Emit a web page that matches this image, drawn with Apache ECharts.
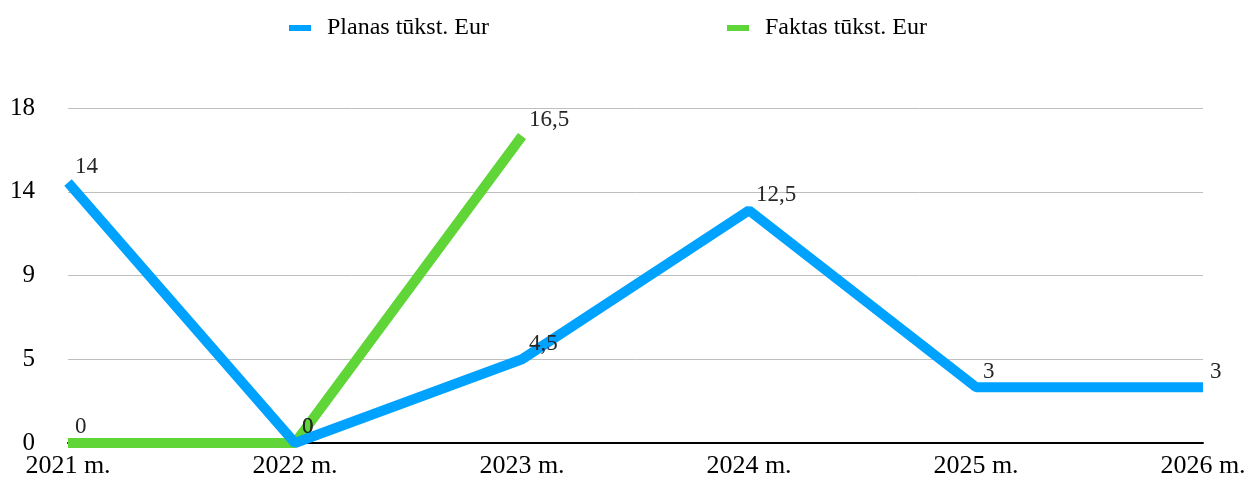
<!DOCTYPE html>
<html>
<head>
<meta charset="utf-8">
<script src="https://cdn.jsdelivr.net/npm/echarts@6/dist/echarts.min.js"></script>
<style>
  html, body { margin: 0; padding: 0; background: #fff; }
  #chart { width: 1250px; height: 480px; }
</style>
</head>
<body>
<div id="chart"></div>
<script>
// duomenys
const years = ['2021 m.', '2022 m.', '2023 m.', '2024 m.', '2025 m.', '2026 m.'];
const planas = [14, 0, 4.5, 12.5, 3, 3];
const faktas = [0, 0, 16.5];
const seriesNames = ['Planas tūkst. Eur', 'Faktas tūkst. Eur'];

const FONT = 'Liberation Serif';
const BLUE = '#00A2FF';
const GREEN = '#5FD537';

const chart = echarts.init(document.getElementById('chart'));

// etiketės su kableliu
const labelCfg = {
    show: true,
    position: [7, -4],
    align: 'left',
    verticalAlign: 'bottom',
    fontFamily: FONT,
    fontSize: 23,
    color: '#262626',
    formatter: p => String(p.value).replace('.', ',')
};

chart.setOption({
    animation: false,
    textStyle: { fontFamily: FONT },
    legend: {
        left: 284,
        top: 11,
        itemWidth: 22,
        itemHeight: 6,
        itemGap: 238,
        icon: 'rect',
        textStyle: { fontFamily: FONT, fontSize: 24, color: '#000', padding: [0, 0, 0, 11] },
        data: seriesNames
    },
    grid: { left: 68, right: 47, top: 108, bottom: 37 },
    xAxis: {
        type: 'category',
        data: years,
        boundaryGap: false,
        axisLine: { lineStyle: { color: '#000', width: 2 } },
        axisTick: { show: false },
        axisLabel: { fontFamily: FONT, fontSize: 26, color: '#000', margin: 10 }
    },
    yAxis: {
        type: 'value',
        min: 0,
        max: 18,
        interval: 4.5,
        axisLine: { show: false },
        axisTick: { show: false },
        splitLine: { lineStyle: { color: '#BFBFBF', width: 1 } },
        axisLabel: {
            fontFamily: FONT, fontSize: 25, color: '#000', margin: 33,
            formatter: v => String(Math.round(v))
        }
    },
    series: [
        {
            name: seriesNames[0],
            type: 'line',
            data: planas,
            z: 3,
            symbol: 'circle',
            symbolSize: 0.1,
            itemStyle: { color: BLUE },
            lineStyle: { color: BLUE, width: 10 },
            label: labelCfg
        },
        {
            name: seriesNames[1],
            type: 'line',
            data: faktas,
            z: 2,
            symbol: 'circle',
            symbolSize: 0.1,
            itemStyle: { color: GREEN },
            lineStyle: { color: GREEN, width: 10 },
            label: labelCfg
        }
    ]
});
</script>
</body>
</html>
